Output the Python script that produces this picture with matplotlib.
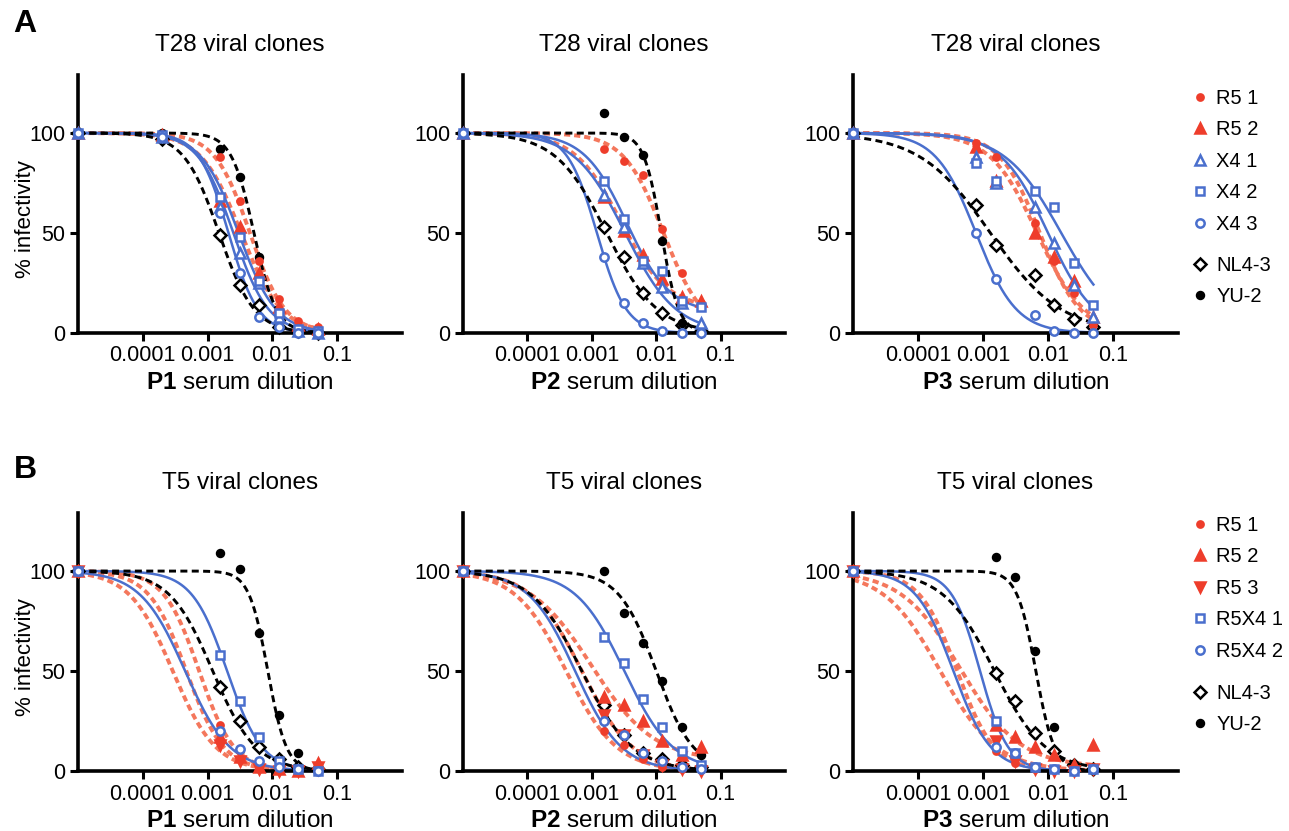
import numpy as np
import matplotlib
matplotlib.use('Agg')
import matplotlib.pyplot as plt
from matplotlib.lines import Line2D

plt.rcParams['font.family'] = ['Liberation Sans', 'DejaVu Sans']
plt.rcParams['mathtext.fontset'] = 'custom'
plt.rcParams['mathtext.rm'] = 'Liberation Sans'
plt.rcParams['mathtext.bf'] = 'Liberation Sans:bold'

# serum dilutions (first point = no serum, drawn on the y axis)
NOSERUM = 1e-5
x_a1 = [NOSERUM, 1/5120, 1/640, 1/320, 1/160, 1/80, 1/40, 1/20]
x_std = [NOSERUM, 1/640, 1/320, 1/160, 1/80, 1/40, 1/20]
x_a3 = [NOSERUM, 1/1280, 1/640, 1/160, 1/80, 1/40, 1/20]

# % infectivity
a1_y = {
    'R5 1': [100, 99, 88, 66, 36, 17, 6, 3],
    'R5 2': [100, 99, 66, 53, 30, 13, 4, 2],
    'X4 1': [100, 98, 63, 40, 25, 8, 1, 0],
    'X4 2': [100, 99, 68, 48, 26, 10, 2, 1],
    'X4 3': [100, 98, 60, 30, 8, 3, 0, 0],
    'NL4-3': [100, 97, 49, 24, 14, 3, 1, 0],
    'YU-2': [100, 100, 92, 78, 38, 9, 2, 1],
}
a2_y = {
    'R5 1': [100, 92, 86, 79, 52, 30, 15],
    'R5 2': [100, 68, 51, 39, 27, 18, 16],
    'X4 1': [100, 69, 53, 35, 23, 15, 5],
    'X4 2': [100, 76, 57, 36, 31, 16, 13],
    'X4 3': [100, 38, 15, 5, 1, 0, 0],
    'NL4-3': [100, 53, 38, 20, 10, 4, 1],
    'YU-2': [100, 110, 98, 89, 46, 5, 3],
}
a3_y = {
    'R5 1': [100, 95, 88, 55, 36, 20, 4],
    'R5 2': [100, 93, 76, 50, 38, 26, 8],
    'X4 1': [100, 88, 75, 63, 45, 24, 8],
    'X4 2': [100, 85, 76, 71, 63, 35, 14],
    'X4 3': [100, 50, 27, 9, 1, 0, 0],
    'NL4-3': [100, 64, 44, 29, 14, 7, 3],
}
b1_y = {
    'R5 1': [100, 23, 10, 3, 1, 0, 1],
    'R5 2': [100, 17, 7, 2, 1, 0, 4],
    'R5 3': [100, 13, 5, 1, 0, 0, 2],
    'R5X4 1': [100, 58, 35, 17, 5, 1, 0],
    'R5X4 2': [100, 20, 11, 5, 2, 1, 0],
    'NL4-3': [100, 42, 25, 12, 6, 2, 1],
    'YU-2': [100, 109, 101, 69, 28, 9, 2],
}
b2_y = {
    'R5 1': [100, 20, 13, 6, 2, 1, 1],
    'R5 2': [100, 37, 33, 25, 15, 8, 12],
    'R5 3': [100, 28, 18, 8, 3, 1, 0],
    'R5X4 1': [100, 67, 54, 36, 22, 10, 3],
    'R5X4 2': [100, 25, 18, 9, 5, 2, 1],
    'NL4-3': [100, 33, 18, 9, 6, 3, 2],
    'YU-2': [100, 100, 79, 64, 45, 22, 8],
}
b3_y = {
    'R5 1': [100, 10, 4, 1, 1, 0, 1],
    'R5 2': [100, 23, 17, 12, 8, 3, 13],
    'R5 3': [100, 15, 5, 1, 0, 0, 1],
    'R5X4 1': [100, 25, 9, 2, 1, 0, 1],
    'R5X4 2': [100, 12, 9, 2, 1, 0, 1],
    'NL4-3': [100, 49, 35, 19, 10, 3, 1],
    'YU-2': [100, 107, 97, 60, 22, 2, 1],
}

# fitted dose-response parameters (IC50, Hill slope, bottom)
a1_fit = {'R5 1': (0.0045, 1.6, 0), 'R5 2': (0.0033, 1.4, 0), 'X4 1': (0.0025, 1.6, 0),
          'X4 2': (0.0030, 1.5, 0), 'X4 3': (0.0021, 1.9, 0), 'NL4-3': (0.0015, 1.6, 0),
          'YU-2': (0.0052, 2.5, 0)}
a2_fit = {'R5 1': (0.013, 1.4, 0), 'R5 2': (0.0028, 1.2, 12), 'X4 1': (0.0033, 1.1, 0),
          'X4 2': (0.0035, 1.3, 10), 'X4 3': (0.0012, 1.9, 0), 'NL4-3': (0.0017, 1.1, 0),
          'YU-2': (0.012, 3.2, 0)}
a3_fit = {'R5 1': (0.0075, 1.4, 0), 'R5 2': (0.0068, 1.2, 0), 'X4 1': (0.010, 1.2, 0),
          'X4 2': (0.016, 1.0, 0), 'X4 3': (0.00078, 1.4, 0), 'NL4-3': (0.0013, 0.8, 0)}
b1_fit = {'R5 1': (0.00074, 1.6, 0), 'R5 2': (0.00047, 1.5, 0), 'R5 3': (0.00029, 1.3, 0),
          'R5X4 1': (0.0020, 1.6, 0), 'R5X4 2': (0.00045, 1.25, 0), 'NL4-3': (0.0012, 1.3, 0),
          'YU-2': (0.0085, 3.0, 0)}
b2_fit = {'R5 1': (0.0004, 1.1, 0), 'R5 2': (0.0010, 0.9, 5), 'R5 3': (0.0007, 1.1, 0),
          'R5X4 1': (0.0032, 1.15, 0), 'R5X4 2': (0.00055, 1.2, 0), 'NL4-3': (0.0007, 1.1, 0),
          'YU-2': (0.010, 1.5, 0)}
b3_fit = {'R5 1': (0.00022, 1.0, 0), 'R5 2': (0.00045, 0.95, 2), 'R5 3': (0.0004, 1.5, 0),
          'R5X4 1': (0.0009, 2.0, 0), 'R5X4 2': (0.00035, 1.5, 0), 'NL4-3': (0.0015, 1.1, 0),
          'YU-2': (0.0065, 3.0, 0)}

RED = '#ee3d2b'
RED_LINE = '#f4775c'
BLUE = '#4a6fcd'
BLACK = '#000000'

styles = {
    'R5 1': dict(marker='o', ms=4.5, c=RED, mfc=RED, line=RED_LINE, ls=(0, (1.6, 1.0)), lw=2.8),
    'R5 2': dict(marker='^', ms=7.5, c=RED, mfc=RED, line=RED_LINE, ls=(0, (1.6, 1.0)), lw=2.8),
    'R5 3': dict(marker='v', ms=7.5, c=RED, mfc=RED, line=RED_LINE, ls=(0, (1.6, 1.0)), lw=2.8),
    'X4 1': dict(marker='^', ms=7, c=BLUE, mfc='white', line=BLUE, ls='-', lw=1.8),
    'X4 2': dict(marker='s', ms=6, c=BLUE, mfc='white', line=BLUE, ls='-', lw=1.8),
    'X4 3': dict(marker='o', ms=6, c=BLUE, mfc='white', line=BLUE, ls='-', lw=1.8),
    'R5X4 1': dict(marker='s', ms=6, c=BLUE, mfc='white', line=BLUE, ls='-', lw=1.8),
    'R5X4 2': dict(marker='o', ms=6, c=BLUE, mfc='white', line=BLUE, ls='-', lw=1.8),
    'NL4-3': dict(marker='D', ms=6, c=BLACK, mfc='white', line=BLACK, ls=(0, (2.4, 1.5)), lw=2.1),
    'YU-2': dict(marker='o', ms=5, c=BLACK, mfc=BLACK, line=BLACK, ls=(0, (2.4, 1.5)), lw=2.1),
}
refs = ['NL4-3', 'YU-2']


def hill(x, ic50, h, bottom):
    return bottom + (100 - bottom) / (1 + (x / ic50) ** h)


W, H = 1289, 831
fig = plt.figure(figsize=(W / 100, H / 100), dpi=100)

# axes boxes in pixels: (left, right, top, bottom)
boxes = [
    [(78, 402, 75, 333), (463, 785, 75, 333), (853, 1178, 75, 333)],
    [(78, 402, 513, 771), (463, 785, 513, 771), (853, 1178, 513, 771)],
]
panels = [
    [(x_a1, a1_y, a1_fit), (x_std, a2_y, a2_fit), (x_a3, a3_y, a3_fit)],
    [(x_std, b1_y, b1_fit), (x_std, b2_y, b2_fit), (x_std, b3_y, b3_fit)],
]
titles = ['T28 viral clones', 'T5 viral clones']
xlabels = ['P1', 'P2', 'P3']

for r in range(2):
    for c in range(3):
        l, rr, t, b = boxes[r][c]
        ax = fig.add_axes([l / W, 1 - b / H, (rr - l) / W, (b - t) / H])
        xs, ys, fits = panels[r][c]
        xx = np.logspace(np.log10(NOSERUM), np.log10(xs[-1]), 300)
        for name, yv in ys.items():
            st = styles[name]
            ic50, h, bot = fits[name]
            ax.plot(xx, hill(xx, ic50, h, bot), color=st['line'], ls=st['ls'],
                    lw=st['lw'], zorder=2)
        # references first, then the clones on top
        order = [n for n in ys if n in refs] + [n for n in ys if n not in refs]
        for name in order:
            st = styles[name]
            ax.plot(xs, ys[name], ls='none', marker=st['marker'], ms=st['ms'],
                    mec=st['c'], mfc=st['mfc'], mew=1.8, clip_on=False, zorder=3)
        ax.set_xscale('log')
        ax.set_xlim(1e-5, 1.0)
        ax.set_ylim(0, 129)
        ax.set_xticks([1e-4, 1e-3, 1e-2, 1e-1])
        ax.set_xticklabels(['0.0001', '0.001', '0.01', '0.1'])
        ax.xaxis.set_minor_locator(matplotlib.ticker.NullLocator())
        ax.set_yticks([0, 50, 100])
        for s in ['top', 'right']:
            ax.spines[s].set_visible(False)
        for s in ['left', 'bottom']:
            ax.spines[s].set_linewidth(2.6)
        ax.tick_params(width=2.2, length=6, labelsize=15.5, pad=3)
        ax.set_title(titles[r], fontsize=17.5, pad=17)
        ax.set_xlabel(r'$\bf{' + xlabels[c] + '}$ serum dilution', fontsize=17.5, labelpad=4)
        if c == 0:
            ax.set_ylabel('% infectivity', fontsize=16)
            ax.yaxis.set_label_coords(-0.13, 0.44)

# legends
def handle(name):
    st = styles[name]
    return Line2D([], [], ls='none', marker=st['marker'], ms=st['ms'], mec=st['c'],
                  mfc=st['mfc'], mew=1.8)

leg_rows = [
    (['R5 1', 'R5 2', 'X4 1', 'X4 2', 'X4 3'], 89, 256),
    (['R5 1', 'R5 2', 'R5 3', 'R5X4 1', 'R5X4 2'], 516, 684),
]
for names, ytop, ytop2 in leg_rows:
    for group, y0 in [(names, ytop), (refs, ytop2)]:
        fig.legend([handle(n) for n in group], group, loc='upper left',
                   bbox_to_anchor=(1190 / W, 1 - y0 / H), frameon=False,
                   fontsize=14.5, handlelength=1.0, handletextpad=0.3,
                   labelspacing=0.62, borderpad=0, borderaxespad=0)

fig.text(25 / W, 1 - 24 / H, 'A', fontsize=23, fontweight='bold', ha='center', va='center')
fig.text(25 / W, 1 - 470 / H, 'B', fontsize=23, fontweight='bold', ha='center', va='center')

fig.savefig('out.png', dpi=100)
